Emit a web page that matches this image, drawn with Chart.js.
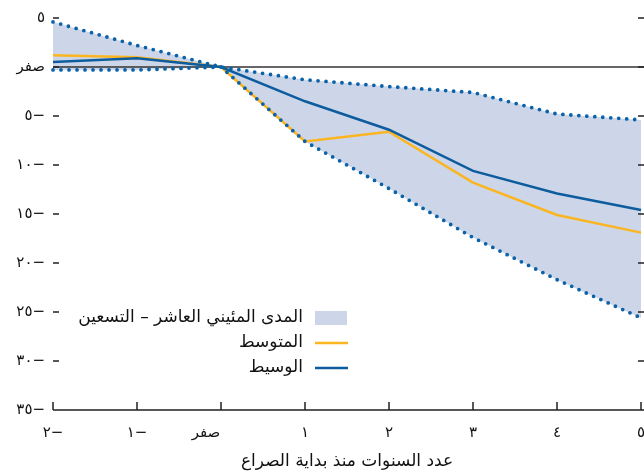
<!DOCTYPE html>
<html>
<head>
<meta charset="utf-8">
<script src="https://cdn.jsdelivr.net/npm/chart.js@4"></script>
<style>
  html, body { margin: 0; padding: 0; background: #fff; }
  #wrap { width: 644px; height: 474px; }
</style>
</head>
<body>
<div id="wrap"><canvas id="conflictChart"></canvas></div>
<script>
// years since the start of the conflict
const years = ["٢−", "١−", "صفر", "١", "٢", "٣", "٤", "٥"];
const median = [0.5, 0.9, 0, -3.5, -6.4, -10.6, -12.9, -14.6];
const mean = [1.2, 1.0, 0, -7.6, -6.6, -11.8, -15.1, -16.9];
const p90 = [4.6, 2.2, 0, -1.3, -2.0, -2.6, -4.8, -5.4];
const p10 = [-0.3, -0.3, 0, -7.6, -12.4, -17.4, -21.7, -25.6];
const yTicks = [5, 0, -5, -10, -15, -20, -25, -30, -35];
const yTickLabels = ["٥", "صفر", "٥−", "١٠−", "١٥−", "٢٠−", "٢٥−", "٣٠−", "٣٥−"];
const seriesNames = ["المدى المئيني العاشر – التسعين", "المتوسط", "الوسيط"];
const xTitle = "عدد السنوات منذ بداية الصراع";

const FONT = '"DejaVu Sans", sans-serif';
const bandFill = "#cdd6e8";
const dotBlue = "#0b62a8";
const meanColor = "#fbb520";
const medianColor = "#0d5c9e";

// axis decorations: inward ticks, zero line, bottom line
const axisDeco = {
  id: "axisDeco",
  beforeDatasetsDraw(chart) {
    const { ctx, chartArea: a, scales: { y } } = chart;
    const y0 = y.getPixelForValue(0);
    ctx.save();
    ctx.strokeStyle = "#333";
    ctx.lineWidth = 1.5;
    ctx.beginPath();
    ctx.moveTo(a.left, y0);
    ctx.lineTo(chart.width, y0);
    ctx.stroke();
    ctx.restore();
  },
  afterDraw(chart) {
    const { ctx, chartArea: a, scales: { x, y } } = chart;
    ctx.save();
    ctx.strokeStyle = "#222";
    ctx.lineWidth = 1.5;
    ctx.beginPath();
    y.ticks.forEach((t) => {
      const py = y.getPixelForValue(t.value);
      ctx.moveTo(a.left, py);
      ctx.lineTo(a.left + 6, py);
      ctx.moveTo(a.right - 3, py);
      ctx.lineTo(chart.width, py);
    });
    x.ticks.forEach((t, i) => {
      const px = x.getPixelForTick(i);
      ctx.moveTo(px, a.bottom);
      ctx.lineTo(px, a.bottom - 8);
    });
    ctx.moveTo(a.left, a.bottom);
    ctx.lineTo(chart.width, a.bottom);
    ctx.stroke();
    ctx.restore();
  },
};

// legend drawn inside the plot, right-to-left
const rtlLegend = {
  id: "rtlLegend",
  afterDraw(chart) {
    const { ctx, chartArea: a } = chart;
    const symX = a.left + 262;
    const textX = symX - 12;
    ctx.save();
    ctx.font = "17px " + FONT;
    ctx.textAlign = "right";
    ctx.textBaseline = "middle";
    ctx.direction = "rtl";
    seriesNames.forEach((name, i) => {
      const cy = a.top + 300 + i * 25;
      if (i === 0) {
        ctx.fillStyle = bandFill;
        ctx.fillRect(symX, cy - 7, 32, 14);
      } else {
        ctx.strokeStyle = i === 1 ? meanColor : medianColor;
        ctx.lineWidth = 2.5;
        ctx.beginPath();
        ctx.moveTo(symX, cy);
        ctx.lineTo(symX + 33, cy);
        ctx.stroke();
      }
      ctx.fillStyle = "#111";
      ctx.fillText(name, textX, cy);
    });
    ctx.restore();
  },
};

const dotted = {
  borderColor: dotBlue,
  borderWidth: 3.8,
  borderDash: [0, 8],
  borderCapStyle: "round",
  pointRadius: 0,
  tension: 0,
};

new Chart(document.getElementById("conflictChart"), {
  type: "line",
  data: {
    labels: years,
    datasets: [
      { label: "p90", data: p90, ...dotted, fill: "+1", backgroundColor: bandFill, order: 0 },
      { label: "p10", data: p10, ...dotted, fill: false, order: 0 },
      { label: seriesNames[2], data: median, borderColor: medianColor, borderWidth: 2.5, pointRadius: 0, fill: false, order: 1 },
      { label: seriesNames[1], data: mean, borderColor: meanColor, borderWidth: 2.5, pointRadius: 0, fill: false, order: 2 },
    ],
  },
  options: {
    responsive: true,
    maintainAspectRatio: false,
    animation: false,
    layout: { padding: { top: 18, right: 3, left: 0, bottom: 0 } },
    plugins: {
      legend: { display: false },
      tooltip: { enabled: false },
      filler: { drawTime: "beforeDatasetsDraw" },
    },
    scales: {
      x: {
        type: "category",
        offset: false,
        grid: { display: false, drawTicks: false },
        border: { display: false },
        ticks: {
          padding: 14,
          color: "#111",
          maxRotation: 0,
          autoSkip: false,
          font: { size: 15, family: FONT },
          // the zero label sits just left of its tick in the original
          callback: (v, i) => (years[i] === "صفر" ? years[i] + "\u2003\u2003" : years[i]),
        },
        title: {
          display: true,
          text: xTitle,
          color: "#111",
          font: { size: 17, family: FONT },
          padding: { top: 2, bottom: 2 },
        },
        afterFit(scale) {
          scale.height = 64;
          scale.paddingLeft = 0;
          scale.paddingRight = 0;
        },
      },
      y: {
        min: -35,
        max: 5,
        afterBuildTicks(scale) { scale.ticks = yTicks.map((v) => ({ value: v })); },
        afterFit(scale) {
          scale.width = 53;
          scale.paddingTop = 0;
          scale.paddingBottom = 0;
        },
        grid: { display: false, drawTicks: false },
        border: { display: false },
        ticks: {
          padding: 8,
          color: "#111",
          font: { size: 15, family: FONT },
          callback: (v) => yTickLabels[yTicks.indexOf(v)],
        },
      },
    },
  },
  plugins: [axisDeco, rtlLegend],
});
</script>
</body>
</html>
